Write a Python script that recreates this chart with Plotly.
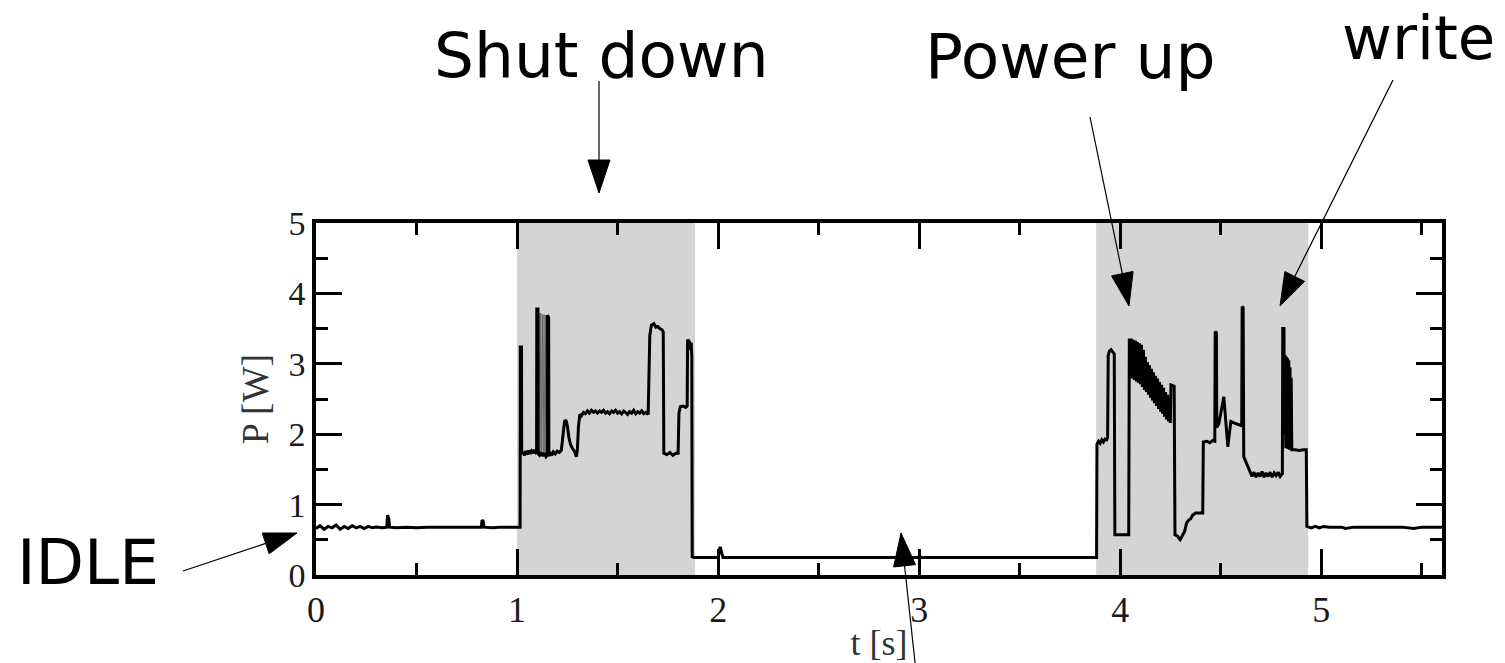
import math
import plotly.graph_objects as go

# ---------------- data ----------------
idle_start = [(0.000, 0.66), (0.020, 0.70), (0.040, 0.65), (0.060, 0.69), (0.080, 0.67),
              (0.100, 0.71), (0.120, 0.65), (0.140, 0.69), (0.160, 0.66), (0.180, 0.70),
              (0.200, 0.67), (0.220, 0.69), (0.240, 0.66), (0.260, 0.69), (0.280, 0.67),
              (0.300, 0.68), (0.330, 0.67), (0.352, 0.68), (0.356, 0.85), (0.362, 0.80),
              (0.366, 0.68), (0.400, 0.67), (0.450, 0.68), (0.500, 0.67), (0.550, 0.68),
              (0.600, 0.68), (0.650, 0.67), (0.700, 0.68), (0.750, 0.68), (0.800, 0.68),
              (0.822, 0.68), (0.826, 0.78), (0.832, 0.76), (0.836, 0.68), (0.880, 0.67),
              (0.920, 0.68), (0.960, 0.68), (1.000, 0.68), (1.015, 0.68)]

shut_down = [(1.016, 3.24), (1.022, 3.24), (1.023, 1.72), (1.030, 1.75), (1.037, 1.70),
             (1.044, 1.76), (1.051, 1.71), (1.058, 1.77), (1.065, 1.72), (1.072, 1.76),
             (1.079, 1.73), (1.086, 1.78), (1.093, 1.74), (1.097, 1.75), (1.098, 3.78),
             (1.104, 3.78), (1.105, 1.72), (1.112, 1.70), (1.120, 1.74), (1.128, 1.69),
             (1.136, 1.73), (1.144, 1.68), (1.150, 1.70), (1.151, 3.69), (1.157, 3.66),
             (1.158, 1.69), (1.165, 1.73), (1.172, 1.70), (1.180, 1.75), (1.190, 1.72),
             (1.200, 1.76), (1.210, 1.74), (1.220, 1.77), (1.228, 2.00), (1.236, 2.18),
             (1.243, 2.20), (1.250, 2.12), (1.258, 1.95), (1.266, 1.85), (1.275, 1.80),
             (1.285, 1.76), (1.295, 1.68), (1.300, 1.78), (1.305, 2.10), (1.312, 2.28),
             (1.320, 2.26), (1.330, 2.31), (1.340, 2.29), (1.350, 2.33), (1.360, 2.30),
             (1.370, 2.34), (1.380, 2.31), (1.390, 2.33), (1.400, 2.30), (1.410, 2.33),
             (1.420, 2.31), (1.430, 2.34), (1.440, 2.30), (1.450, 2.32), (1.460, 2.29),
             (1.470, 2.33), (1.480, 2.31), (1.490, 2.34), (1.500, 2.30), (1.510, 2.32),
             (1.520, 2.29), (1.530, 2.33), (1.540, 2.31), (1.550, 2.28), (1.560, 2.32),
             (1.570, 2.30), (1.580, 2.34), (1.590, 2.29), (1.600, 2.32), (1.610, 2.30),
             (1.620, 2.33), (1.630, 2.29), (1.640, 2.31), (1.652, 2.28), (1.660, 3.40),
             (1.668, 3.55), (1.680, 3.57), (1.690, 3.52), (1.700, 3.53), (1.710, 3.50),
             (1.722, 3.48), (1.727, 3.45), (1.730, 1.73), (1.745, 1.71), (1.760, 1.74),
             (1.775, 1.70), (1.790, 1.73), (1.801, 1.73), (1.805, 2.30), (1.812, 2.39),
             (1.825, 2.40), (1.838, 2.38), (1.846, 2.40), (1.848, 3.34), (1.856, 3.32),
             (1.862, 3.20), (1.866, 3.30), (1.869, 3.10), (1.871, 0.26)]

shut_flicker = [(1.106, 1.72), (1.110, 3.72), (1.114, 1.72), (1.118, 3.72), (1.122, 1.72),
                (1.126, 3.70), (1.130, 1.72), (1.134, 3.70), (1.138, 1.72), (1.142, 3.69),
                (1.146, 1.72)]

standby = [(1.880, 0.25), (1.950, 0.25), (2.000, 0.25), (2.010, 0.40), (2.016, 0.34),
           (2.024, 0.25), (2.200, 0.25), (2.500, 0.25), (2.800, 0.25), (3.100, 0.25),
           (3.400, 0.25), (3.700, 0.25), (3.882, 0.25)]

power_up = [(3.884, 1.86), (3.892, 1.90), (3.900, 1.87), (3.908, 1.92), (3.916, 1.89),
            (3.924, 1.93), (3.932, 1.92), (3.937, 1.95), (3.940, 3.12), (3.946, 3.18),
            (3.954, 3.20), (3.962, 3.17), (3.970, 3.14), (3.973, 0.57), (4.000, 0.57),
            (4.020, 0.57), (4.042, 0.57), (4.045, 3.36), (4.050, 2.80), (4.055, 3.36),
            (4.060, 2.79), (4.065, 3.34), (4.070, 2.77), (4.075, 3.33), (4.080, 2.75),
            (4.085, 3.31), (4.090, 2.73), (4.095, 3.29), (4.100, 2.71), (4.105, 3.27),
            (4.110, 2.67), (4.115, 3.20), (4.120, 2.63), (4.125, 3.10), (4.130, 2.60),
            (4.135, 3.02), (4.140, 2.56), (4.145, 2.98), (4.150, 2.52), (4.155, 2.93),
            (4.160, 2.48), (4.165, 2.88), (4.170, 2.44), (4.175, 2.83), (4.180, 2.40),
            (4.185, 2.79), (4.190, 2.36), (4.195, 2.74), (4.200, 2.32), (4.205, 2.70),
            (4.210, 2.29), (4.215, 2.66), (4.220, 2.25), (4.225, 2.60), (4.230, 2.21),
            (4.235, 2.56), (4.240, 2.18), (4.245, 2.52), (4.249, 2.16), (4.252, 2.70),
            (4.268, 2.68), (4.272, 0.57), (4.285, 0.55), (4.298, 0.50), (4.310, 0.56),
            (4.320, 0.62), (4.330, 0.74), (4.340, 0.78), (4.350, 0.80), (4.360, 0.85),
            (4.375, 0.88), (4.410, 0.88)]

write_phase = [(4.413, 1.89), (4.430, 1.90), (4.445, 1.88), (4.460, 1.91), (4.470, 1.90),
               (4.472, 3.46), (4.478, 3.44), (4.480, 2.10), (4.490, 2.15), (4.500, 2.30),
               (4.510, 2.50), (4.515, 2.53), (4.520, 2.35), (4.530, 1.95), (4.535, 1.82),
               (4.542, 2.00), (4.550, 2.18), (4.565, 2.16), (4.580, 2.14), (4.595, 2.13),
               (4.604, 2.12), (4.606, 3.81), (4.611, 3.80), (4.614, 1.68), (4.625, 1.60),
               (4.635, 1.52), (4.645, 1.45), (4.655, 1.40), (4.665, 1.46), (4.675, 1.39),
               (4.685, 1.45), (4.695, 1.40), (4.705, 1.47), (4.715, 1.39), (4.725, 1.45),
               (4.735, 1.40), (4.745, 1.46), (4.755, 1.39), (4.765, 1.45), (4.775, 1.41),
               (4.785, 1.46), (4.795, 1.40), (4.806, 1.44), (4.808, 3.50), (4.814, 3.50),
               (4.817, 2.00), (4.820, 3.12), (4.823, 1.80), (4.826, 3.10), (4.829, 1.80),
               (4.832, 3.08), (4.835, 1.79), (4.838, 3.05), (4.841, 1.78), (4.844, 2.95),
               (4.847, 1.78), (4.850, 2.80), (4.853, 1.78), (4.870, 1.78),
               (4.890, 1.77), (4.910, 1.78), (4.925, 1.78), (4.928, 0.69)]

idle_end = [(4.950, 0.67), (4.970, 0.69), (4.990, 0.67), (5.010, 0.69), (5.040, 0.68),
            (5.100, 0.68), (5.120, 0.66), (5.160, 0.68), (5.200, 0.68), (5.260, 0.67),
            (5.320, 0.68), (5.400, 0.68), (5.460, 0.66), (5.500, 0.68), (5.600, 0.68)]

shade_start = [1.000, 3.880]
shade_end = [1.885, 4.935]

x_ticks = [0, 1, 2, 3, 4, 5]
y_ticks = [0, 1, 2, 3, 4, 5]

# ---------------- figure geometry ----------------
W, H = 1505, 663
ML, MR, MT, MB = 316, 63, 223, 88
PW, PH = W - ML - MR, H - MT - MB


def px(xp):
    return (xp - ML) / PW


def py(yp):
    return (H - MB - yp) / PH


trace_pts = idle_start + shut_down + standby + power_up + write_phase + idle_end

fig = go.Figure()
fig.add_trace(go.Scatter(x=[p[0] for p in shut_flicker], y=[p[1] for p in shut_flicker],
                         mode="lines", line=dict(color="#6a6a6a", width=1),
                         showlegend=False, hoverinfo="skip"))
fig.add_trace(go.Scatter(x=[p[0] for p in trace_pts], y=[p[1] for p in trace_pts],
                         mode="lines", line=dict(color="black", width=3),
                         showlegend=False))

for s, e in zip(shade_start, shade_end):
    fig.add_shape(type="rect", xref="x", yref="paper", x0=s, x1=e, y0=0, y1=1,
                  fillcolor="#d4d4d4", line=dict(width=0), layer="below")


def arrow(tail, tip, head_len=33, head_w=22):
    tx, ty = tail
    hx, hy = tip
    dx, dy = hx - tx, hy - ty
    L = math.hypot(dx, dy)
    ux, uy = dx / L, dy / L
    bx, by = hx - ux * head_len, hy - uy * head_len
    nx, ny = -uy, ux
    p1 = (bx + nx * head_w / 2, by + ny * head_w / 2)
    p2 = (bx - nx * head_w / 2, by - ny * head_w / 2)
    fig.add_shape(type="line", xref="paper", yref="paper",
                  x0=px(tx), y0=py(ty), x1=px(bx), y1=py(by),
                  line=dict(color="black", width=1.2), layer="above")
    path = "M{},{} L{},{} L{},{} Z".format(px(hx), py(hy), px(p1[0]), py(p1[1]),
                                          px(p2[0]), py(p2[1]))
    fig.add_shape(type="path", xref="paper", yref="paper", path=path,
                  fillcolor="black", line=dict(color="black", width=1), layer="above")


arrow((599, 81), (599, 193))
arrow((1090, 117), (1129, 306))
arrow((1393, 80), (1280, 306))
arrow((183, 571), (297, 533))
arrow((918, 690), (901, 533))

labels = [("Shut down", 601, 55, 63, "middle"), ("Power up", 1070, 56, 63, "middle"),
          ("write", 1418, 1, 61, "top"), ("IDLE", 88, 562, 63, "middle")]
for txt, xc, yc, fs, ya in labels:
    fig.add_annotation(text=txt, xref="paper", yref="paper", x=px(xc), y=py(yc),
                       xanchor="center", yanchor=ya, showarrow=False, borderpad=0,
                       font=dict(family="DejaVu Sans", size=fs, color="black"))

axis_common = dict(showline=True, linewidth=3.5, linecolor="black", mirror="allticks",
                   ticks="inside", ticklen=26, tickwidth=3, tickcolor="black",
                   showgrid=False, zeroline=False,
                   minor=dict(ticks="inside", ticklen=12, tickwidth=3, tickcolor="black",
                              dtick=0.5, showgrid=False))

fig.update_xaxes(range=[0, 5.6], tickvals=x_ticks, ticktext=[str(v) for v in x_ticks],
                 tickfont=dict(family="Liberation Serif", size=36, color="#1a1a1a"),
                 ticklabelstandoff=0,
                 title=dict(text="t [s]", font=dict(family="Liberation Serif", size=36, color="#333333"),
                            standoff=2),
                 **axis_common)
fig.update_yaxes(range=[0, 5], tickvals=y_ticks, ticktext=[str(v) for v in y_ticks],
                 tickfont=dict(family="Liberation Serif", size=34, color="#1a1a1a"),
                 title=dict(text="P [W]", font=dict(family="Liberation Serif", size=38, color="#333333"),
                            standoff=9),
                 **axis_common)

fig.update_layout(width=W, height=H, margin=dict(l=ML, r=MR, t=MT, b=MB, autoexpand=False),
                  paper_bgcolor="white", plot_bgcolor="white", showlegend=False)

fig.write_html("out.html")
